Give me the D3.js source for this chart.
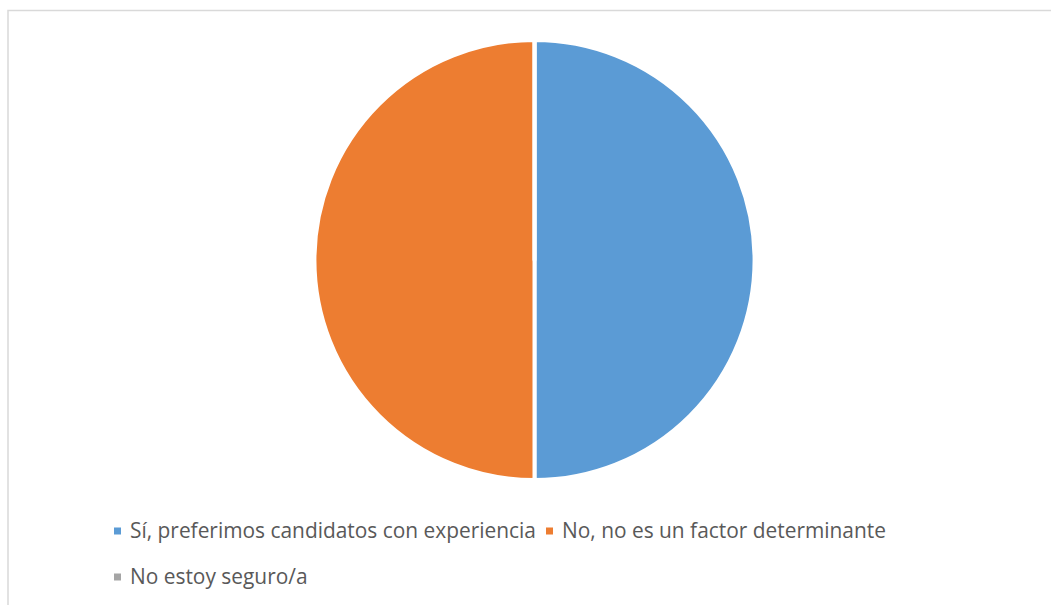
<!DOCTYPE html>
<html>
<head>
<meta charset="utf-8">
<script src="https://cdn.jsdelivr.net/npm/d3@7"></script>
<style>
  body { margin: 0; background: #fff; }
  svg { display: block; }
</style>
</head>
<body>
<svg></svg>
<script>
// Data
var categories = ["Sí, preferimos candidatos con experiencia", "No, no es un factor determinante", "No estoy seguro/a"];
var values = [1, 1, 0];
var colors = ["#5b9bd5", "#ed7d31", "#a5a5a5"];

var width = 1051;
var height = 605;
var radius = 220;
var cx = 534.5, cy = 260;

var svg = d3.select("svg")
    .attr("width", width)
    .attr("height", height);

// chart area border
svg.append("rect")
    .attr("x", 8)
    .attr("y", 10.5)
    .attr("width", 1060)
    .attr("height", 640)
    .attr("fill", "#fff")
    .attr("stroke", "#d9d9d9")
    .attr("stroke-width", 1.5);

var color = d3.scaleOrdinal().domain(categories).range(colors);

var pie = d3.pie().sort(null).value(function (d, i) { return values[i]; });
var arc = d3.arc().innerRadius(0).outerRadius(radius);

var g = svg.append("g")
    .attr("transform", "translate(" + cx + "," + cy + ")");

g.selectAll("path")
    .data(pie(categories))
    .enter().append("path")
    .attr("d", arc)
    .attr("fill", function (d) { return color(d.data); })
    .attr("stroke", "#fff")
    .attr("stroke-width", 4)
    .attr("stroke-linejoin", "round");

// Legend
var legendPos = [[114, 531], [546, 531], [114, 577]];
var legend = svg.selectAll("g.legend")
    .data(categories)
    .enter().append("g")
    .attr("class", "legend")
    .attr("transform", function (d, i) { return "translate(" + legendPos[i][0] + "," + legendPos[i][1] + ")"; });

legend.append("rect")
    .attr("x", 0)
    .attr("y", -3.5)
    .attr("width", 7)
    .attr("height", 7)
    .attr("fill", function (d) { return color(d); });

legend.append("text")
    .attr("x", 16)
    .attr("y", 0)
    .attr("dy", "0.35em")
    .attr("fill", "#595959")
    .style("font-family", "'Open Sans', sans-serif")
    .style("font-size", "20.9px")
    .text(function (d) { return d; });
</script>
</body>
</html>
